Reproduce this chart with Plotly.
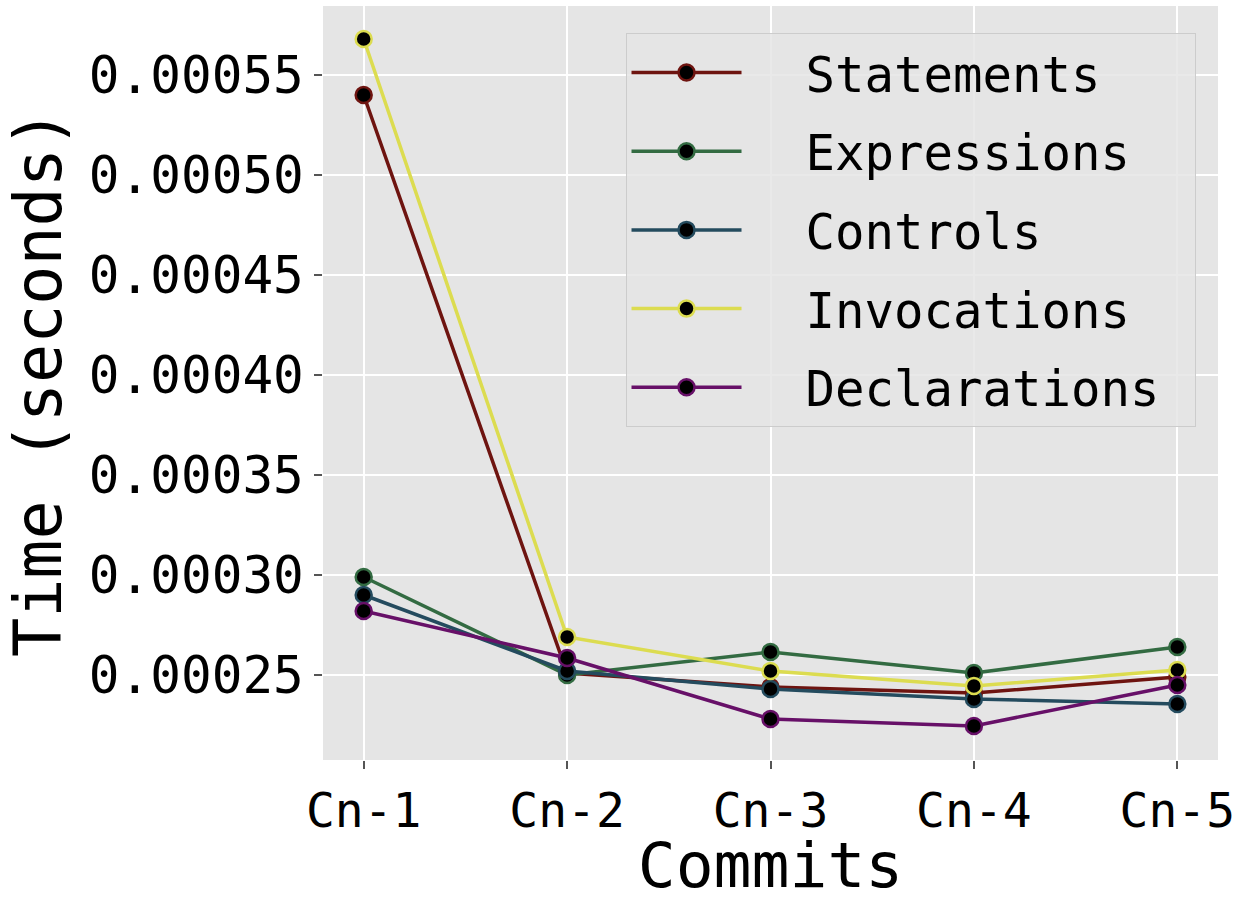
import plotly.graph_objects as go

commits = ["Cn-1", "Cn-2", "Cn-3", "Cn-4", "Cn-5"]
statements = [0.000540, 0.000251, 0.000244, 0.000241, 0.000249]
expressions = [0.000299, 0.000250, 0.0002615, 0.000251, 0.000264]
controls = [0.000290, 0.000252, 0.000243, 0.000238, 0.0002355]
invocations = [0.000568, 0.000269, 0.000252, 0.0002445, 0.0002525]
declarations = [0.000282, 0.0002585, 0.000228, 0.0002245, 0.000245]

series = [
    ("Statements", statements, "#6e1410"),
    ("Expressions", expressions, "#336b42"),
    ("Controls", controls, "#244b5e"),
    ("Invocations", invocations, "#dcdc50"),
    ("Declarations", declarations, "#671068"),
]

FONT = "DejaVu Sans Mono"
fig = go.Figure()
for name, vals, col in series:
    fig.add_trace(go.Scatter(
        x=list(range(len(commits))), y=vals, name="  " + name + " ", mode="lines+markers",
        legendgroup=name,
        line=dict(color=col, width=3.5),
        marker=dict(color="black", size=16, line=dict(color=col, width=2.5)),
    ))

fig.update_layout(
    width=1242, height=902,
    margin=dict(l=323, r=24, t=6, b=142),
    paper_bgcolor="white", plot_bgcolor="#e5e5e5",
    font=dict(family=FONT, color="black", size=48),
    showlegend=True,
    legend=dict(x=0.338, y=0.964, xanchor="left", yanchor="top",
                traceorder="grouped", tracegroupgap=12, itemwidth=110,
                bgcolor="rgba(229,229,229,0.85)", bordercolor="#cccccc", borderwidth=1,
                font=dict(family=FONT, size=49, color="black")),
)
fig.update_xaxes(
    tickmode="array", tickvals=list(range(len(commits))), ticktext=commits,
    range=[-0.2, 4.2], showgrid=True, gridcolor="white", gridwidth=2,
    zeroline=False, ticks="outside", ticklen=8, tickwidth=2, tickcolor="#555555",
    tickfont=dict(size=48, family=FONT),
    title=dict(text="Commits", font=dict(size=63, family=FONT), standoff=9),
)
fig.update_yaxes(
    range=[0.0002075, 0.0005845], tickmode="array",
    tickvals=[0.00025, 0.0003, 0.00035, 0.0004, 0.00045, 0.0005, 0.00055],
    ticktext=["0.00025", "0.00030", "0.00035", "0.00040", "0.00045", "0.00050", "0.00055"],
    showgrid=True, gridcolor="white", gridwidth=2, zeroline=False,
    ticks="outside", ticklen=8, tickwidth=2, tickcolor="#555555",
    tickfont=dict(size=51, family=FONT),
    title=dict(text="Time (seconds)", font=dict(size=65, family=FONT), standoff=6),
)
fig.write_html("out.html", config={"displayModeBar": False},
               post_script="document.body.style.margin='0';")
